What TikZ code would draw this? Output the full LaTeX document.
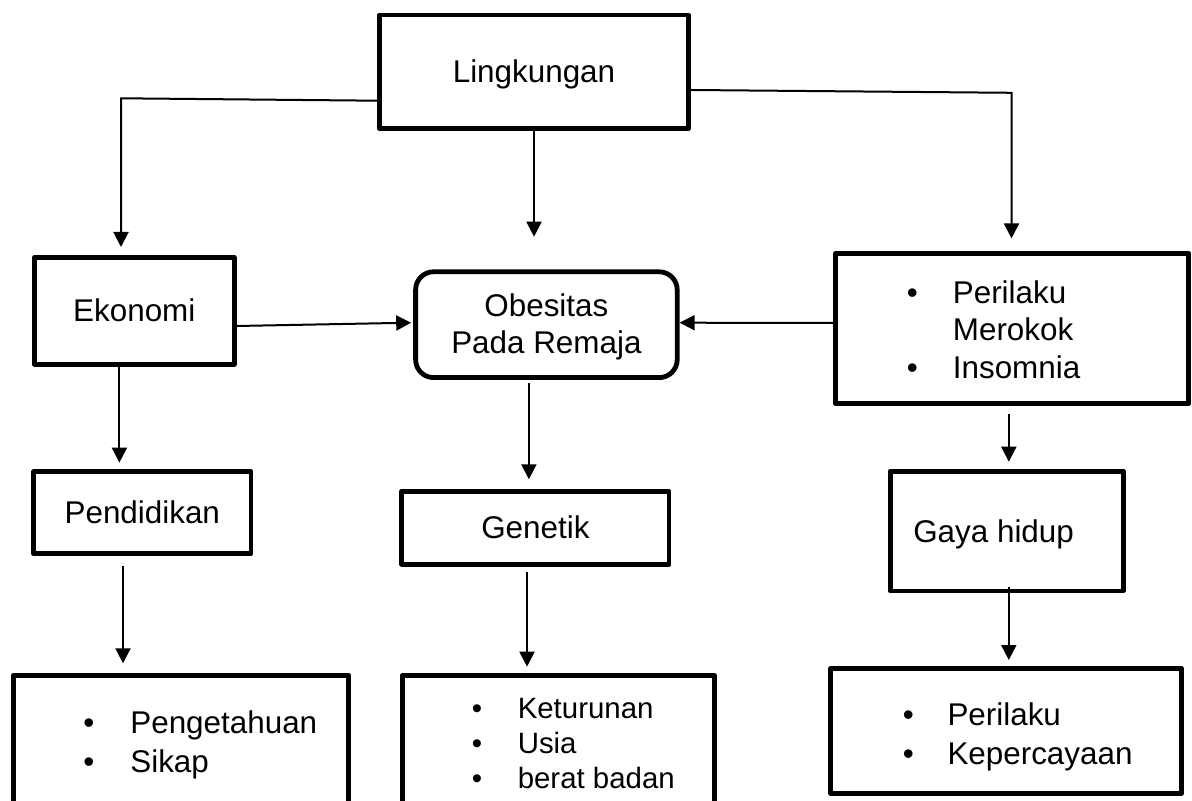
\documentclass[tikz,border=0pt]{standalone}
\usepackage{fontspec}
\setmainfont{Liberation Sans}
\usetikzlibrary{arrows.meta,calc}
\newcommand\blt[1]{\makebox[#1][l]{\textbullet}}
\tikzset{
  box/.style={draw, line width=2.4pt, inner sep=0pt, line join=round,
    font=\fontsize{15.7pt}{18.5pt}\selectfont, text height=11pt, text depth=0pt},
  arr/.style={line width=1pt, -{Triangle[length=7.5pt,width=7.5pt]}},
  listtxt/.style={inner sep=0pt, anchor=base west},
}
\begin{document}
\begin{tikzpicture}[x=0.5pt,y=-0.5pt]
\useasboundingbox (0,0) rectangle (1192,801);
\fill[white] (0,0) rectangle (1192,801);
\clip (0,0) rectangle (1192,801);

% boxes
\node[box, minimum width=154.6pt, minimum height=56.6pt] (L) at (534,71.7) {Lingkungan};
\node[box, minimum width=99.8pt, minimum height=53.4pt] (E) at (134.3,310.8) {Ekonomi};
\node[box, rounded corners=9pt, minimum width=130.8pt, minimum height=52.9pt,
      text height=5pt, text depth=13.2pt] (O) at (546.4,324.7)
      {\begin{tabular}[t]{@{}c@{}}Obesitas\\Pada Remaja\end{tabular}};
\node[box, minimum width=176.5pt, minimum height=75.2pt] (R) at (1012.2,328.4) {};
\node[box, minimum width=108.7pt, minimum height=40.9pt] (P) at (142.3,512.7) {Pendidikan};
\node[box, minimum width=133.6pt, minimum height=36.6pt] (G) at (535.4,527.7) {Genetik};
\node[box, minimum width=116.5pt, minimum height=59.9pt] (GH) at (1006.6,531) {Gaya hidup\hspace*{13pt}};
\node[box, minimum width=167.6pt, minimum height=112.35pt] (BL) at (181,787.65) {};
\node[box, minimum width=155.95pt, minimum height=112.35pt] (BM) at (558.35,787.65) {};
\node[box, minimum width=175.45pt, minimum height=62.45pt] (BR) at (1006.15,730.85) {};

% list texts
\node[listtxt, font=\fontsize{15.7pt}{18.75pt}\selectfont] (Rt) at (906.5,303.5)
  {\begin{tabular}[t]{@{}l@{}}\blt{23pt}Perilaku\\\hspace*{23pt}Merokok\\\blt{23pt}Insomnia\end{tabular}};
\node[listtxt, font=\fontsize{15.7pt}{19.25pt}\selectfont] (BLt) at (83,733.5)
  {\begin{tabular}[t]{@{}l@{}}\blt{23.5pt}Pengetahuan\\\blt{23.5pt}Sikap\end{tabular}};
\node[listtxt, font=\fontsize{14.7pt}{17.5pt}\selectfont] (BMt) at (471.4,718.3)
  {\begin{tabular}[t]{@{}l@{}}\blt{23pt}Keturunan\\\blt{23pt}Usia\\\blt{23pt}berat badan\end{tabular}};
\node[listtxt, font=\fontsize{15.7pt}{19.5pt}\selectfont] (BRt) at (902.5,725)
  {\begin{tabular}[t]{@{}l@{}}\blt{22.3pt}Perilaku\\\blt{22.3pt}Kepercayaan\end{tabular}};

% connectors
\draw[arr] ($(L.west)+(0,29)$) -- ($(E.north)+(-13.3,-156.7)$) -- ($(E.north)+(-13.3,-8)$);
\draw[arr] (L.south) -- ++(0,106);
\draw[arr] ($(L.east)+(0,18.3)$) -- ($(R.north)+(-0.7,-158)$) -- ($(R.north)+(-0.7,-12.4)$);
\draw[arr] ($(E.east)+(0,15.2)$) -- ($(O.west)+(-2,-2)$);
\draw[arr] ($(R.west)+(0,-5.4)$) -- ($(O.east)+(0,-2)$);
\draw[arr] ($(E.south)+(-14.9,0)$) -- ++(0,96);
\draw[arr] ($(P.south)+(-19.3,9.7)$) -- ++(0,97.6);
\draw[arr] ($(O.south)+(-17.5,3)$) -- ++(0,96.3);
\draw[arr] ($(G.south)+(-8.4,5)$) -- ++(0,95);
\draw[arr] ($(R.south)+(-3.4,8)$) -- ++(0,47.7);
\draw[arr] ($(GH.south)+(2.2,-6.6)$) -- ++(0,73.3);
\end{tikzpicture}
\end{document}
